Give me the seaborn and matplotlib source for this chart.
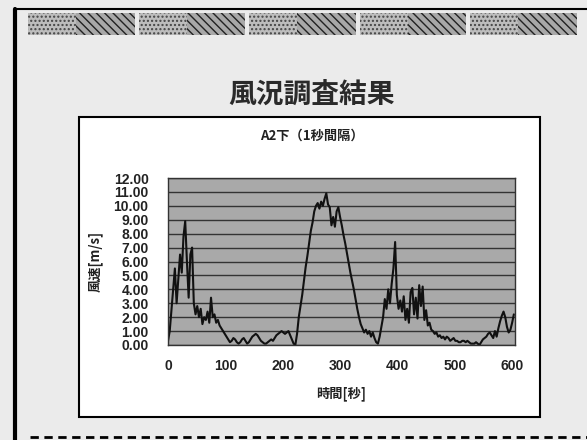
import numpy as np
import pandas as pd
import matplotlib
matplotlib.use("Agg")
import matplotlib.pyplot as plt
from matplotlib.patches import Rectangle
from matplotlib.lines import Line2D
import seaborn as sns

# Wind speed record at A2 (lower), sampled here every 3 seconds
time_s = list(range(0, 604, 3))
speed_ms = [
    0.3, 1.0, 2.5, 4.0, 5.5, 3.0, 4.8, 6.5, 5.2, 7.8,
    8.9, 6.0, 3.4, 6.5, 7.0, 3.0, 2.2, 2.8, 2.0, 2.6,
    1.5, 2.0, 1.8, 2.4, 1.6, 3.4, 2.0, 2.2, 1.6, 1.8,
    1.4, 1.2, 1.0, 0.8, 0.6, 0.4, 0.2, 0.3, 0.5, 0.4,
    0.2, 0.1, 0.2, 0.4, 0.5, 0.3, 0.1, 0.2, 0.4, 0.6,
    0.7, 0.8, 0.7, 0.5, 0.3, 0.2, 0.1, 0.1, 0.2, 0.3,
    0.4, 0.3, 0.5, 0.7, 0.8, 0.9, 1.0, 0.9, 0.8, 0.9,
    1.0, 0.7, 0.4, 0.1, 0.0, 0.8, 2.0, 2.8, 3.6, 4.6,
    5.6, 6.4, 7.3, 8.2, 8.8, 9.6, 10.0, 10.2, 9.8, 10.3,
    10.0, 10.5, 10.9, 10.1, 9.9, 8.6, 9.2, 8.5, 9.6, 9.9,
    9.2, 8.6, 7.9, 7.3, 6.6, 5.9, 5.2, 4.6, 4.0, 3.3,
    2.6, 2.0, 1.5, 1.2, 0.9, 1.1, 0.8, 1.0, 0.6, 0.9,
    0.5, 0.2, 0.1, 0.6, 1.3, 2.0, 3.3, 2.6, 4.0, 3.0,
    4.4, 5.5, 7.4, 3.6, 2.6, 3.2, 2.4, 3.5, 1.8, 2.6,
    1.6, 3.8, 4.1, 2.2, 3.4, 1.9, 4.3, 2.8, 4.2, 1.8,
    2.5, 1.4, 1.6, 1.1, 1.0, 0.8, 0.9, 0.6, 0.7, 0.5,
    0.6, 0.4, 0.6, 0.5, 0.3, 0.4, 0.5, 0.3, 0.3, 0.2,
    0.2, 0.3, 0.3, 0.2, 0.3, 0.2, 0.1, 0.1, 0.1, 0.2,
    0.1, 0.0, 0.2, 0.4, 0.5, 0.6, 0.8, 0.9, 0.7, 0.5,
    1.0, 0.6, 1.2, 1.7, 2.1, 2.4, 2.0, 1.3, 0.9, 1.1,
    1.6, 2.2,
]
x_ticks = [0, 100, 200, 300, 400, 500, 600]
y_ticks = [0, 1, 2, 3, 4, 5, 6, 7, 8, 9, 10, 11, 12]

slide_title = "風況調査結果"
chart_title = "A2下（1秒間隔）"
x_label = "時間[秒]"
y_label = "風速[m/s]"

sns.set_style("white")
plt.rcParams["font.family"] = ["Noto Sans CJK JP", "DejaVu Sans"]

W, H = 587, 440
fig = plt.figure(figsize=(W / 100, H / 100), dpi=100)
fig.patch.set_facecolor("#ebebeb")


def px_rect(x0, y0, x1, y1, **kw):
    """Rectangle given in pixel coordinates measured from the top-left corner."""
    return Rectangle((x0 / W, 1 - y1 / H), (x1 - x0) / W, (y1 - y0) / H,
                     transform=fig.transFigure, zorder=-1, **kw)


# slide frame
fig.add_artist(Line2D([15 / W, 15 / W], [0, 1 - 9 / H], transform=fig.transFigure,
                      color="black", lw=3))
fig.add_artist(Line2D([15 / W, 1], [1 - 9 / H, 1 - 9 / H], transform=fig.transFigure,
                      color="black", lw=1.5))
fig.add_artist(Line2D([30 / W, 1], [1 - 437 / H, 1 - 437 / H], transform=fig.transFigure,
                      color="black", lw=2, ls=(0, (3, 2))))

# decorative header band
band_x0, band_x1, gap = 28, 577, 4
n_blocks = 5
bw = (band_x1 - band_x0 - gap * (n_blocks - 1)) / n_blocks
for i in range(n_blocks):
    bx = band_x0 + i * (bw + gap)
    fig.add_artist(px_rect(bx, 13, bx + bw, 35, facecolor="#bdbdbd",
                           edgecolor="#444444", hatch="....", lw=0))
    fig.add_artist(px_rect(bx + bw * 0.45, 13, bx + bw, 35, facecolor="#a8a8a8",
                           edgecolor="#222222", hatch="\\\\\\\\", lw=0))

fig.text(312 / W, 1 - 95 / H, slide_title, ha="center", va="center",
         fontsize=20, fontweight="bold", color="#2a2a2a")

# white chart panel
fig.add_artist(px_rect(79, 117, 540, 417, facecolor="white", edgecolor="black", lw=1.5))
fig.text(312 / W, 1 - 136 / H, chart_title, ha="center", va="center",
         fontsize=9.5, fontweight="bold", color="#222222")

ax = fig.add_axes([168 / W, 1 - 345 / H, 347 / W, 167 / H])
ax.set_facecolor("#a9a9a9")

df = pd.DataFrame({"time": time_s, "speed": speed_ms})
sns.lineplot(data=df, x="time", y="speed", ax=ax, color="#111111", lw=1.5)

ax.set_xlim(0, 605)
ax.set_ylim(0, 12)
ax.set_xticks(x_ticks)
ax.set_yticks(y_ticks)
ax.set_yticklabels([f"{v:.2f}" for v in y_ticks])
ax.yaxis.grid(True, color="#333333", lw=1.0)
ax.xaxis.grid(False)
ax.set_axisbelow(True)
for s in ax.spines.values():
    s.set_color("#333333")
    s.set_linewidth(1.0)

for lab in ax.get_xticklabels() + ax.get_yticklabels():
    lab.set_fontfamily(["Liberation Sans", "DejaVu Sans"])
    lab.set_fontweight("bold")
    lab.set_fontsize(10)
    lab.set_color("#222222")
ax.tick_params(axis="y", length=0, pad=14)
ax.tick_params(axis="x", length=0, pad=10)

ax.set_xlabel(x_label, fontsize=9.5, fontweight="bold", color="#222222", labelpad=10)
ax.set_ylabel(y_label, fontsize=9.5, fontweight="bold", color="#222222", labelpad=8)

fig.savefig("out.png", dpi=100, facecolor=fig.get_facecolor())
